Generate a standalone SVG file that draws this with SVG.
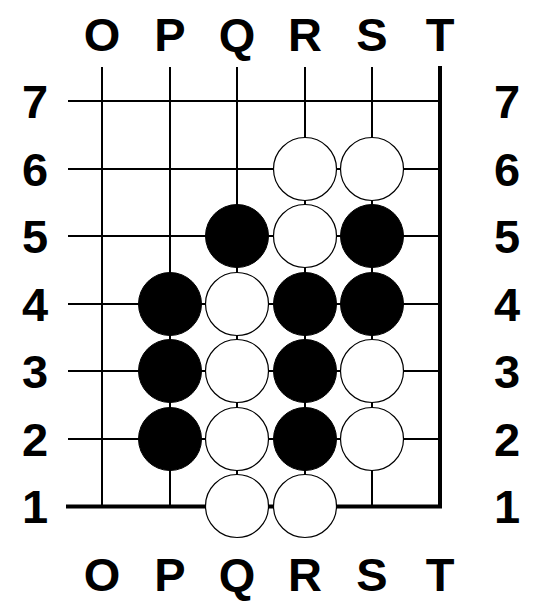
<svg xmlns="http://www.w3.org/2000/svg" width="542" height="609" viewBox="0 0 542 609">
<style>
.lbl{font-family:"Liberation Sans",Arial,sans-serif;font-weight:bold;font-size:47px;fill:#000;text-anchor:middle}
.g{stroke:#000;stroke-width:2;fill:none}
.e{stroke:#000;stroke-width:4;fill:none}
.b{fill:#000;stroke:#000;stroke-width:1}
.w{fill:#fff;stroke:#000;stroke-width:1.2}
</style>
<rect width="542" height="609" fill="#fff"/>
<g id="connectors">
<path class="g" d="M102 67V506M170 67V506M237 67V506M305 67V506M372 67V506"/>
<path class="g" d="M68 101H440M68 169H440M68 236H440M68 304H440M68 371H440M68 439H440"/>
<path class="e" d="M440 66V508M66 506.5H442"/>
</g>
<g id="labels">
<text class="lbl" x="102" y="51">O</text><text class="lbl" x="170" y="51">P</text><text class="lbl" x="237" y="51">Q</text><text class="lbl" x="305" y="51">R</text><text class="lbl" x="372" y="51">S</text><text class="lbl" x="440" y="51">T</text>
<text class="lbl" x="102" y="591">O</text><text class="lbl" x="170" y="591">P</text><text class="lbl" x="237" y="591">Q</text><text class="lbl" x="305" y="591">R</text><text class="lbl" x="372" y="591">S</text><text class="lbl" x="440" y="591">T</text>
<text class="lbl" x="35" y="118">7</text><text class="lbl" x="35" y="186">6</text><text class="lbl" x="35" y="253">5</text><text class="lbl" x="35" y="321">4</text><text class="lbl" x="35" y="388">3</text><text class="lbl" x="35" y="456">2</text><text class="lbl" x="35" y="523">1</text>
<text class="lbl" x="507" y="118">7</text><text class="lbl" x="507" y="186">6</text><text class="lbl" x="507" y="253">5</text><text class="lbl" x="507" y="321">4</text><text class="lbl" x="507" y="388">3</text><text class="lbl" x="507" y="456">2</text><text class="lbl" x="507" y="523">1</text>
</g>
<g id="R6"><circle class="w" cx="305" cy="169" r="31.5"/></g>
<g id="S6"><circle class="w" cx="372" cy="169" r="31.5"/></g>
<g id="Q5"><circle class="b" cx="237" cy="236" r="31.5"/></g>
<g id="R5"><circle class="w" cx="305" cy="236" r="31.5"/></g>
<g id="S5"><circle class="b" cx="372" cy="236" r="31.5"/></g>
<g id="P4"><circle class="b" cx="170" cy="304" r="31.5"/></g>
<g id="Q4"><circle class="w" cx="237" cy="304" r="31.5"/></g>
<g id="R4"><circle class="b" cx="305" cy="304" r="31.5"/></g>
<g id="S4"><circle class="b" cx="372" cy="304" r="31.5"/></g>
<g id="P3"><circle class="b" cx="170" cy="371" r="31.5"/></g>
<g id="Q3"><circle class="w" cx="237" cy="371" r="31.5"/></g>
<g id="R3"><circle class="b" cx="305" cy="371" r="31.5"/></g>
<g id="S3"><circle class="w" cx="372" cy="371" r="31.5"/></g>
<g id="P2"><circle class="b" cx="170" cy="439" r="31.5"/></g>
<g id="Q2"><circle class="w" cx="237" cy="439" r="31.5"/></g>
<g id="R2"><circle class="b" cx="305" cy="439" r="31.5"/></g>
<g id="S2"><circle class="w" cx="372" cy="439" r="31.5"/></g>
<g id="Q1"><circle class="w" cx="237" cy="506" r="31.5"/></g>
<g id="R1"><circle class="w" cx="305" cy="506" r="31.5"/></g>
</svg>
